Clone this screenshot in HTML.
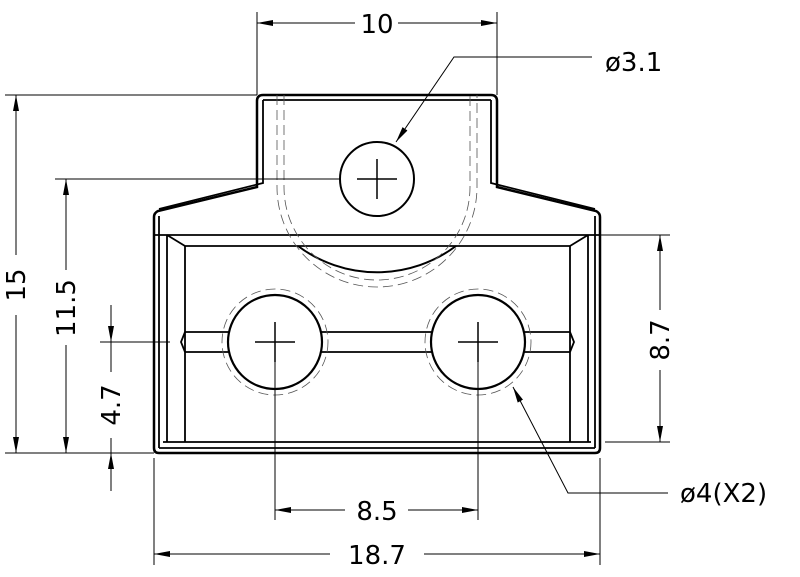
<!DOCTYPE html>
<html><head><meta charset="utf-8"><style>html,body{margin:0;padding:0;background:#fff;}svg{display:block}</style></head>
<body>
<svg width="800" height="577" viewBox="0 0 800 577" xmlns="http://www.w3.org/2000/svg" font-family="'DejaVu Sans','Liberation Sans',sans-serif">
<defs>
<marker id="a" viewBox="0 0 16 6" refX="16" refY="3" markerWidth="16" markerHeight="6" orient="auto-start-reverse" markerUnits="userSpaceOnUse"><path d="M0,0L16,3L0,6z" fill="#000"/></marker>
</defs>
<g fill="none" stroke="#000">
<path d="M257,101 Q257,95 263,95 L491,95 Q497,95 497,101 L497,187 L596,211 Q600,213 600,217 L600,448 Q600,453 595,453 L159,453 Q154,453 154,448 L154,217 Q154,213 158,211 L257,187 Z" stroke-width="2.5"/>
<path d="M263,100 L491,100 M263,100 L263,183 L159,209 M491,100 L491,183 L595,209 M159,216 L159,448 M595,216 L595,448 M159,448 L595,448" stroke-width="1.8"/>
<line x1="154" y1="235" x2="600" y2="235" stroke-width="1.8"/>
<path d="M167,235 L185,246 L570,246 L588,235 M167,235 L167,442 M588,235 L588,442 M163,442 L591,442" stroke-width="1.8"/>
<path d="M185,246 L185,442 M570,246 L570,442" stroke-width="1.8"/>
<path d="M185,332 L229,332 M185,352 L229,352 M321,332 L432,332 M321,352 L432,352 M524,332 L570,332 M524,352 L570,352 M185,332 L181,342 L185,352 M570,332 L574,342 L570,352" stroke-width="1.8"/>
<path d="M298,246 A132,132 0 0 0 456,246" stroke-width="2"/>
<path d="M277,95 L277,187 A100,100 0 0 0 477,187 L477,95" stroke="#555" stroke-width="0.8" stroke-dasharray="10,5"/>
<path d="M284,95 L284,187 A93,93 0 0 0 470,187 L470,95" stroke="#555" stroke-width="0.8" stroke-dasharray="10,5"/>
<circle cx="377" cy="179" r="37" stroke-width="2"/>
<circle cx="275" cy="342" r="47" stroke-width="2.2"/>
<circle cx="478" cy="342" r="47" stroke-width="2.2"/>
<circle cx="275" cy="342" r="53" stroke="#555" stroke-width="0.8" stroke-dasharray="10,5"/>
<circle cx="478" cy="342" r="53" stroke="#555" stroke-width="0.8" stroke-dasharray="10,5"/>
<path d="M357,179 L397,179 M377,159 L377,199 M255,342 L295,342 M275,322 L275,362 M458,342 L498,342 M478,322 L478,362" stroke-width="1.5"/>
<g stroke-width="1">
<path d="M257,12 L257,95 M497,12 L497,95"/>
<path d="M5,95 L257,95 M5,453 L154,453 M55,179 L340,179 M100,342 L170,342"/>
<path d="M600,235 L670,235 M605,442 L670,442"/>
<path d="M275,362 L275,520 M478,362 L478,520 M154,458 L154,565 M600,458 L600,565"/>
<path d="M257,23 L355,23 M398,23 L497,23" marker-start="url(#a)" marker-end="url(#a)"/>
<path d="M16,95 L16,453" marker-start="url(#a)" marker-end="url(#a)"/>
<path d="M66,179 L66,453" marker-start="url(#a)" marker-end="url(#a)"/>
<path d="M111,305 L111,342" marker-end="url(#a)"/>
<path d="M111,491 L111,453" marker-end="url(#a)"/>
<path d="M111,342 L111,372 M111,438 L111,453"/>
<path d="M660,235 L660,442" marker-start="url(#a)" marker-end="url(#a)"/>
<path d="M275,510 L478,510" marker-start="url(#a)" marker-end="url(#a)"/>
<path d="M154,554 L600,554" marker-start="url(#a)" marker-end="url(#a)"/>
<path d="M592,57 L454,57 L396,142" marker-end="url(#a)"/>
<path d="M668,493 L568,493 L513,387" marker-end="url(#a)"/>
</g>
</g>
<g fill="#000" font-size="26" text-anchor="middle">
<rect x="355" y="8" width="43" height="30" fill="#fff"/>
<text x="377" y="33">10</text>
<text x="605" y="71" text-anchor="start">ø3.1</text>
<text x="680" y="502" text-anchor="start">ø4(X2)</text>
<rect x="345" y="495" width="63" height="30" fill="#fff"/>
<text x="377" y="520">8.5</text>
<rect x="330" y="539" width="94" height="30" fill="#fff"/>
<text x="377" y="564">18.7</text>
<rect x="0" y="255" width="34" height="60" fill="#fff"/>
<text transform="translate(25,285) rotate(-90)">15</text>
<rect x="50" y="270" width="34" height="75" fill="#fff"/>
<text transform="translate(75,308) rotate(-90)">11.5</text>
<text transform="translate(120,405) rotate(-90)">4.7</text>
<rect x="645" y="310" width="34" height="60" fill="#fff"/>
<text transform="translate(669,340) rotate(-90)">8.7</text>
</g>
</svg>
</body></html>
